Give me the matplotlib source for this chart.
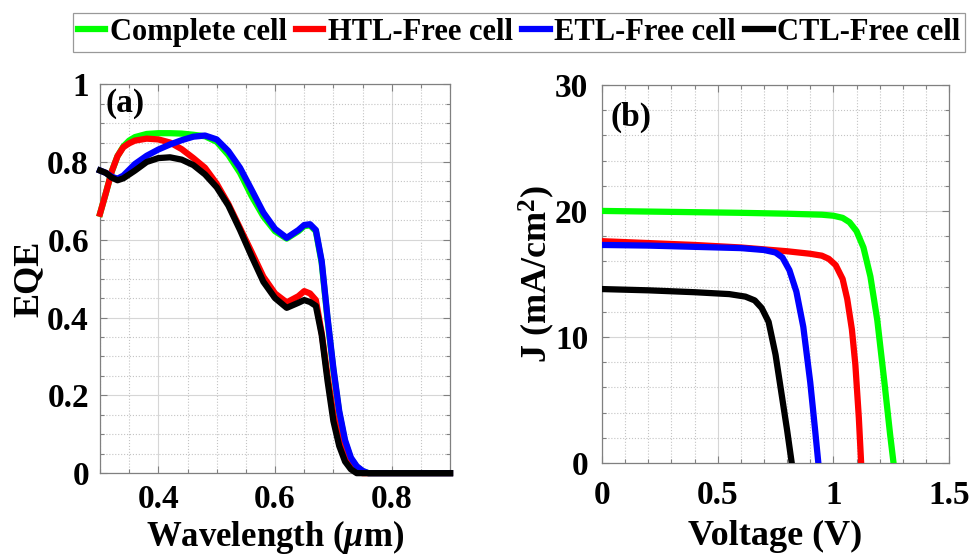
import matplotlib
matplotlib.use("Agg")
import matplotlib.pyplot as plt
from matplotlib.ticker import MultipleLocator

plt.rcParams['font.family'] = ['Liberation Serif', 'DejaVu Serif']
plt.rcParams['font.weight'] = 'bold'
plt.rcParams['mathtext.fontset'] = 'custom'
plt.rcParams['mathtext.rm'] = 'Liberation Serif:bold'
plt.rcParams['mathtext.bf'] = 'Liberation Serif:bold'
plt.rcParams['mathtext.it'] = 'Liberation Serif:italic'

labels = ['Complete cell', 'HTL-Free cell', 'ETL-Free cell', 'CTL-Free cell']
colors = ['#00ff00', '#ff0000', '#0000ff', '#000000']

# EQE spectra (wavelength in um)
wavelength = [0.30, 0.31, 0.32, 0.33, 0.34, 0.35, 0.36, 0.38, 0.40, 0.42, 0.44, 0.46,
              0.48, 0.50, 0.52, 0.54, 0.56, 0.58, 0.60, 0.62, 0.64, 0.65, 0.66, 0.67,
              0.68, 0.69, 0.70, 0.71, 0.72, 0.73, 0.74, 0.75, 0.76, 0.80, 0.85, 0.90]
eqe_complete = [0.667, 0.720, 0.775, 0.815, 0.840, 0.855, 0.864, 0.872, 0.874, 0.874, 0.873, 0.870,
                0.866, 0.852, 0.818, 0.772, 0.712, 0.660, 0.622, 0.603, 0.622, 0.635, 0.637, 0.622,
                0.540, 0.395, 0.265, 0.155, 0.080, 0.037, 0.016, 0.005, 0.0, 0.0, 0.0, 0.0]
eqe_htl_free = [0.667, 0.720, 0.775, 0.815, 0.838, 0.848, 0.855, 0.860, 0.858, 0.850, 0.833, 0.810,
                0.785, 0.744, 0.692, 0.630, 0.568, 0.505, 0.462, 0.439, 0.455, 0.468, 0.462, 0.445,
                0.360, 0.250, 0.151, 0.085, 0.045, 0.018, 0.005, 0.0, 0.0, 0.0, 0.0, 0.0]
eqe_etl_free = [0.778, 0.772, 0.762, 0.757, 0.765, 0.780, 0.795, 0.816, 0.832, 0.845, 0.856, 0.865,
                0.868, 0.858, 0.828, 0.785, 0.728, 0.670, 0.628, 0.605, 0.625, 0.638, 0.640, 0.625,
                0.545, 0.400, 0.270, 0.160, 0.085, 0.040, 0.018, 0.006, 0.0, 0.0, 0.0, 0.0]
eqe_ctl_free = [0.778, 0.772, 0.760, 0.753, 0.758, 0.768, 0.778, 0.800, 0.810, 0.812, 0.806, 0.792,
                0.768, 0.735, 0.688, 0.625, 0.557, 0.492, 0.450, 0.425, 0.438, 0.445, 0.440, 0.430,
                0.355, 0.237, 0.134, 0.070, 0.030, 0.010, 0.0, 0.0, 0.0, 0.0, 0.0, 0.0]

# J-V curves (V, mA/cm^2)
v_complete = [0, 0.2, 0.4, 0.6, 0.8, 0.95, 1.0, 1.04, 1.07, 1.10, 1.13, 1.16, 1.19, 1.22, 1.245, 1.26]
j_complete = [20.0, 19.95, 19.9, 19.85, 19.78, 19.7, 19.62, 19.45, 19.1, 18.4, 17.1, 14.8, 11.3, 6.5, 2.3, 0.0]
v_htl_free = [0, 0.2, 0.4, 0.6, 0.8, 0.9, 0.95, 0.98, 1.01, 1.04, 1.06, 1.08, 1.095, 1.11, 1.12]
j_htl_free = [17.6, 17.45, 17.3, 17.1, 16.8, 16.6, 16.45, 16.2, 15.7, 14.6, 13.0, 10.6, 7.8, 3.6, 0.0]
v_etl_free = [0, 0.2, 0.4, 0.6, 0.7, 0.75, 0.78, 0.81, 0.84, 0.87, 0.90, 0.92, 0.935]
j_etl_free = [17.3, 17.25, 17.15, 17.05, 16.9, 16.7, 16.3, 15.3, 13.6, 10.8, 6.4, 2.8, 0.0]
v_ctl_free = [0, 0.2, 0.4, 0.55, 0.62, 0.66, 0.69, 0.72, 0.75, 0.78, 0.80, 0.82]
j_ctl_free = [13.8, 13.7, 13.55, 13.4, 13.2, 12.9, 12.3, 11.2, 8.6, 5.0, 2.6, 0.0]

eqe_series = [eqe_complete, eqe_htl_free, eqe_etl_free, eqe_ctl_free]
jv_series = [(v_complete, j_complete), (v_htl_free, j_htl_free),
             (v_etl_free, j_etl_free), (v_ctl_free, j_ctl_free)]

frame = '#808080'
fig = plt.figure(figsize=(9.71, 5.56), dpi=100)
ax_a = fig.add_axes([0.103, 0.149, 0.3605, 0.6996])
ax_b = fig.add_axes([0.620, 0.1673, 0.3574, 0.680])


def style_axes(ax):
    ax.set_axisbelow(True)
    ax.grid(which='major', color='#d6d6d6', linestyle='-', linewidth=0.8)
    ax.grid(which='minor', color='#c4c4c4', linestyle=':', linewidth=0.8)
    ax.tick_params(which='both', direction='in', top=True, right=True,
                   color=frame, width=0.8, labelsize=24)
    ax.tick_params(which='major', length=5)
    ax.tick_params(which='minor', length=3)
    for s in ax.spines.values():
        s.set_color(frame)
        s.set_linewidth(0.9)


# (a) EQE
for vals, c, lab in zip(eqe_series, colors, labels):
    ax_a.plot(wavelength, vals, color=c, lw=4.5, label=lab, clip_on=False, zorder=3)
ax_a.set_xlim(0.3, 0.9)
ax_a.set_ylim(0, 1)
ax_a.set_xticks([0.4, 0.6, 0.8])
ax_a.set_xticklabels(['0.4', '0.6', '0.8'])
ax_a.set_yticks([0, 0.2, 0.4, 0.6, 0.8, 1])
ax_a.set_yticklabels(['0', '0.2', '0.4', '0.6', '0.8', '1'])
ax_a.xaxis.set_minor_locator(MultipleLocator(0.05))
ax_a.yaxis.set_minor_locator(MultipleLocator(0.05))
style_axes(ax_a)
ax_a.tick_params(axis='x', pad=8)
ax_a.tick_params(axis='y', pad=8)
ax_a.set_xlabel(r'Wavelength ($\mu$m)', fontsize=25, fontweight='bold')
ax_a.set_ylabel('EQE', fontsize=26, fontweight='bold')
ax_a.xaxis.set_label_coords(0.5, -0.115)
ax_a.yaxis.set_label_coords(-0.155, 0.5)
ax_a.text(0.017, 0.95, '(a)', transform=ax_a.transAxes, fontsize=24,
          fontweight='bold', va='center', ha='left')

# (b) J-V
for (v, j), c, lab in zip(jv_series, colors, labels):
    ax_b.plot(v, j, color=c, lw=4.5, label=lab, zorder=3)
ax_b.set_xlim(0, 1.5)
ax_b.set_ylim(0, 30)
ax_b.set_xticks([0, 0.5, 1, 1.5])
ax_b.set_xticklabels(['0', '0.5', '1', '1.5'])
ax_b.set_yticks([0, 10, 20, 30])
ax_b.xaxis.set_minor_locator(MultipleLocator(0.1))
ax_b.yaxis.set_minor_locator(MultipleLocator(2))
style_axes(ax_b)
ax_b.tick_params(axis='x', pad=12)
ax_b.tick_params(axis='y', pad=10)
ax_b.set_xlabel('Voltage (V)', fontsize=26, fontweight='bold')
ax_b.set_ylabel(r'J (mA/cm$^{2}$)', fontsize=26, fontweight='bold')
ax_b.xaxis.set_label_coords(0.5, -0.15)
ax_b.yaxis.set_label_coords(-0.13, 0.5)
ax_b.text(0.023, 0.915, '(b)', transform=ax_b.transAxes, fontsize=24,
          fontweight='bold', va='center', ha='left')

handles, labs = ax_b.get_legend_handles_labels()
leg = fig.legend(handles, labs, loc='center', bbox_to_anchor=(0.5345, 0.9415), ncol=4,
                 fontsize=22, handlelength=0.9, handletextpad=0.15, columnspacing=0.3,
                 borderpad=0.15, borderaxespad=0, frameon=True, fancybox=False)
leg.get_frame().set_edgecolor(frame)
leg.get_frame().set_linewidth(0.9)
for t in leg.get_texts():
    t.set_fontweight('bold')

fig.savefig('out.png', dpi=100)
